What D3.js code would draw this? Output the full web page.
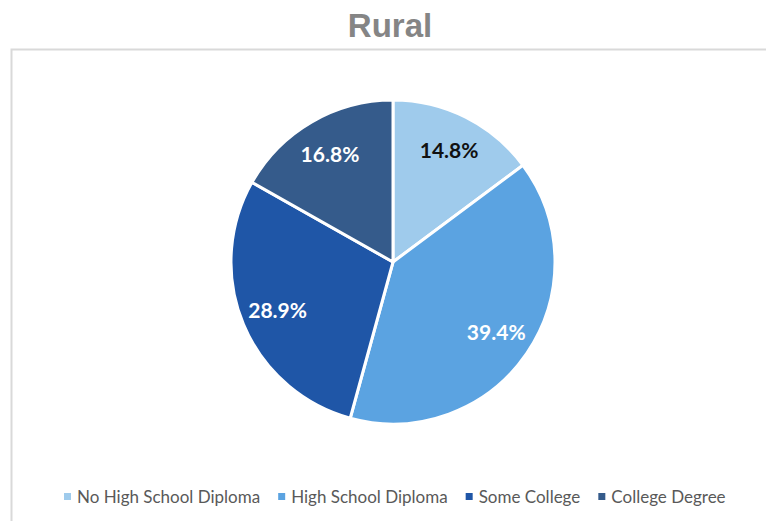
<!DOCTYPE html>
<html>
<head>
<meta charset="utf-8">
<script src="https://cdn.jsdelivr.net/npm/d3@7"></script>
<style>
  html, body { margin: 0; padding: 0; background: #fff; }
  svg { display: block; }
</style>
</head>
<body>
<svg id="chart" width="766" height="521"></svg>
<script>
// Educational attainment, rural population (percent of total)
const categories = ["No High School Diploma", "High School Diploma", "Some College", "College Degree"];
const shares = [14.8, 39.4, 28.9, 16.8];
const sliceColors = ["#9fcbec", "#5ba3e1", "#1f56a7", "#355b8b"];
const labelColors = ["#111111", "#ffffff", "#ffffff", "#ffffff"];
const chartTitle = "Rural";

const W = 766, H = 521;
const svg = d3.select("#chart");

// Title above the framed plot area
svg.append("text")
  .attr("x", 390).attr("y", 37)
  .attr("text-anchor", "middle")
  .attr("font-family", "Liberation Sans, Arial, sans-serif")
  .attr("font-weight", "bold")
  .attr("font-size", 33)
  .attr("fill", "#858585")
  .text(chartTitle);

// Frame: top and left edges of the chart area
svg.append("path")
  .attr("d", `M11.5,${H} V49.5 H${W}`)
  .attr("fill", "none")
  .attr("stroke", "#d9d9d9")
  .attr("stroke-width", 2);

const cx = 393, cy = 262, r = 162;
const g = svg.append("g").attr("transform", `translate(${cx},${cy})`);

const pie = d3.pie().sort(null).value(d => d.v);
const arcs = pie(shares.map((v, i) => ({ v, i })));
const arc = d3.arc().innerRadius(0).outerRadius(r);
const labelArc = d3.arc().innerRadius(125).outerRadius(125);

g.selectAll("path.slice")
  .data(arcs)
  .join("path")
  .attr("class", "slice")
  .attr("d", arc)
  .attr("fill", d => sliceColors[d.data.i])
  .attr("stroke", "#ffffff")
  .attr("stroke-width", 3)
  .attr("stroke-linejoin", "round");

g.selectAll("text.value")
  .data(arcs)
  .join("text")
  .attr("class", "value")
  .attr("transform", d => `translate(${labelArc.centroid(d)})`)
  .attr("text-anchor", "middle")
  .attr("dy", "0.36em")
  .attr("font-family", "Lato, 'Open Sans', sans-serif")
  .attr("font-weight", "bold")
  .attr("font-size", 21)
  .attr("fill", d => labelColors[d.data.i])
  .text(d => d.data.v.toFixed(1) + "%");

// Legend row, laid out left to right
const legend = svg.append("g");
const sw = 7, textOffset = 13, itemGap = 18, legendY = 503, legendX = 64;
const items = legend.selectAll("g.item")
  .data(categories)
  .join("g")
  .attr("class", "item");
items.append("rect")
  .attr("width", sw).attr("height", sw)
  .attr("y", -sw - 3)
  .attr("fill", (d, i) => sliceColors[i]);
items.append("text")
  .attr("x", textOffset)
  .attr("y", 0)
  .attr("font-family", "Lato, 'Open Sans', sans-serif")
  .attr("font-size", 17)
  .attr("fill", "#595959")
  .text(d => d);

const widths = [];
items.each(function () {
  widths.push(this.getBBox().width);
});
items.attr("transform", (d, i) => {
  const pos = legendX + d3.sum(widths.slice(0, i)) + itemGap * i;
  return `translate(${pos},${legendY})`;
});
</script>
</body>
</html>
